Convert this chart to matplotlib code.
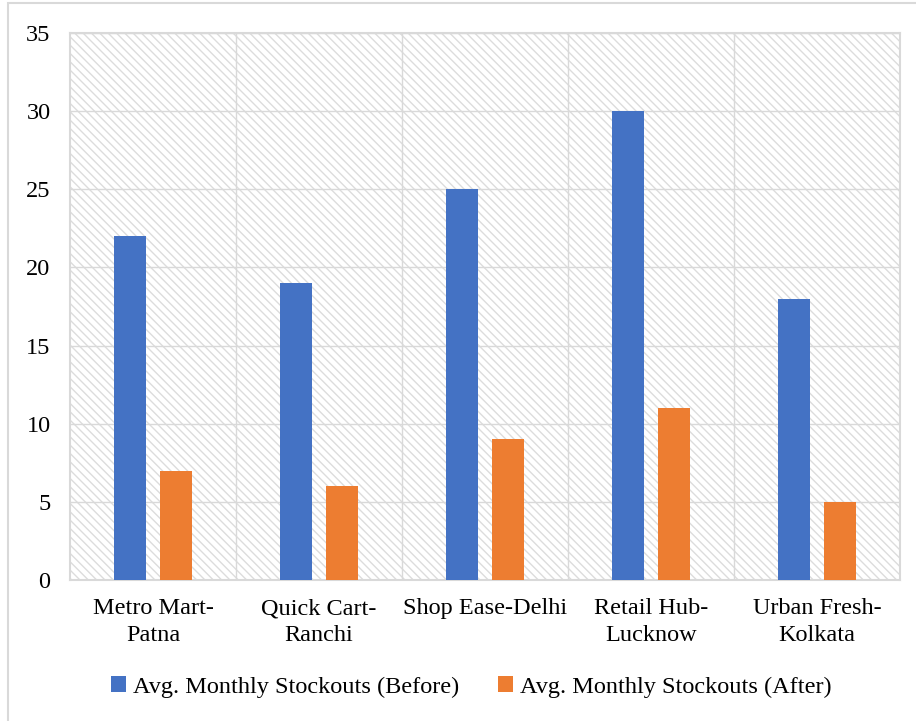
import matplotlib
matplotlib.use("Agg")
import matplotlib.pyplot as plt
from matplotlib.patches import Patch, Rectangle
import numpy as np

stores = ["Metro Mart-\nPatna", "Quick Cart-\nRanchi", "Shop Ease-Delhi",
          "Retail Hub-\nLucknow", "Urban Fresh-\nKolkata"]
before = [22, 19, 25, 30, 18]
after = [7, 6, 9, 11, 5]
series_names = ["Avg. Monthly Stockouts (Before)", "Avg. Monthly Stockouts (After)"]

BLUE = "#4472C4"
ORANGE = "#ED7D31"
GRID = "#d9d9d9"
FS = 17.5

plt.rcParams["font.family"] = ["Liberation Serif", "DejaVu Serif"]
plt.rcParams["hatch.linewidth"] = 1.0
plt.rcParams["hatch.color"] = "#dcdcdc"

fig = plt.figure(figsize=(9.16, 7.21), dpi=100)
fig.patch.set_facecolor("white")

# outer chart border
fig.patches.append(Rectangle((8 / 916, -0.01), 1.0, 1 - 3 / 721 + 0.01,
                             transform=fig.transFigure, fill=False,
                             edgecolor=GRID, linewidth=1.5))

ax = fig.add_axes([70 / 916, 1 - 580 / 721, (900 - 70) / 916, (580 - 33) / 721])
ax.set_facecolor("white")

# hatched plot area background
ax.add_patch(Rectangle((0, 0), 1, 1, transform=ax.transAxes, facecolor="white",
                       edgecolor="#dcdcdc", hatch="\\\\\\\\", linewidth=0, zorder=0))

x = np.arange(len(stores))
w = 0.19
ax.bar(x - 0.14, before, width=w, color=BLUE, zorder=3)
ax.bar(x + 0.14, after, width=w, color=ORANGE, zorder=3)

ax.set_xlim(-0.5, len(stores) - 0.5)
ax.set_ylim(0, 35)
ax.set_yticks(range(0, 36, 5))
ax.set_xticks(x)
ax.set_xticklabels(stores, fontsize=FS, linespacing=1.35)
ax.set_xticks(np.arange(0.5, len(stores) - 0.5, 1), minor=True)
ax.tick_params(axis="y", labelsize=FS, length=0, pad=14)
ax.tick_params(axis="x", which="both", length=0, pad=13)

ax.grid(axis="y", color=GRID, linewidth=1.0, zorder=1)
ax.grid(axis="x", which="minor", color=GRID, linewidth=1.0, zorder=1)
ax.set_axisbelow(True)
for s in ax.spines.values():
    s.set_color(GRID)
    s.set_linewidth(1.5)

handles = [Patch(facecolor=BLUE), Patch(facecolor=ORANGE)]
fig.legend(handles, series_names, loc="center", bbox_to_anchor=(0.515, 1 - 687 / 721),
           ncol=2, frameon=False, fontsize=FS, handlelength=0.6, handleheight=0.6,
           handletextpad=0.3, columnspacing=1.6)

fig.savefig("out.png", dpi=100, facecolor="white")
